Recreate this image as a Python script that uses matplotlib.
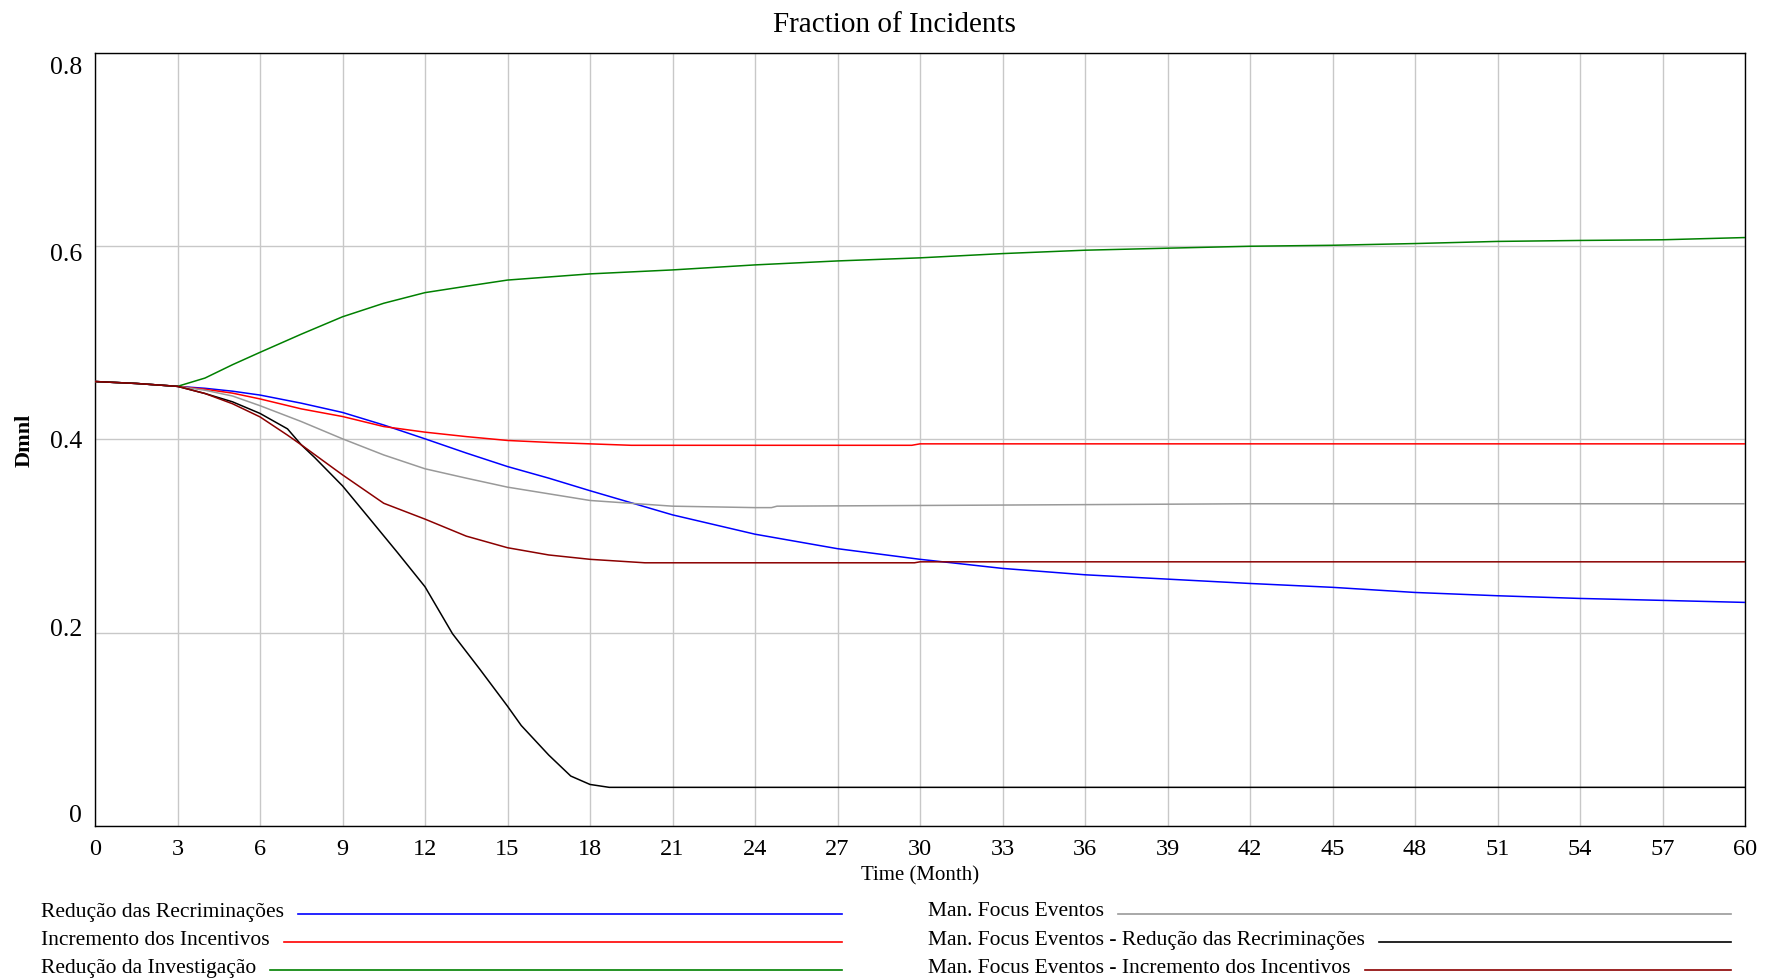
import matplotlib
matplotlib.use("Agg")
import matplotlib.pyplot as plt
from matplotlib.lines import Line2D
from matplotlib.transforms import blended_transform_factory, offset_copy

plt.rcParams['font.family'] = ['Liberation Serif', 'DejaVu Serif']

# ---- data ----
title = "Fraction of Incidents"
x_label = "Time (Month)"
y_label = "Dmnl"
x_ticks = list(range(0, 61, 3))
y_ticks = [0, 0.2, 0.4, 0.6, 0.8]
y_tick_labels = ["0", "0.2", "0.4", "0.6", "0.8"]

t_blue = [0, 1.5, 3, 4, 5, 6, 7.5, 9, 10.5, 12, 13.5, 15, 16.5, 18, 21, 24, 27, 30, 33, 36, 39, 42, 45, 48, 51, 54, 57, 60]
v_blue = [.46, .458, .455, .453, .45, .446, .4376, .428, .415, .4007, .386, .372, .36, .347, .322, .302, .287, .276, .2666, .26, .2555, .251, .247, .2417, .2383, .2355, .2335, .2314]

t_red = [0, 1.5, 3, 4, 5, 6, 7.5, 9, 10.5, 12, 13.5, 15, 16.5, 18, 19.5, 29.7, 30, 60]
v_red = [.46, .458, .455, .452, .448, .442, .4317, .4238, .4134, .4076, .403, .399, .397, .3955, .394, .394, .3955, .3955]

t_green = [0, 1.5, 3, 4, 5, 6, 7.5, 9, 10.5, 12, 13.5, 15, 18, 21, 24, 27, 30, 33, 36, 39, 42, 45, 48, 51, 54, 57, 60]
v_green = [.46, .458, .455, .4636, .4774, .4902, .509, .527, .541, .552, .5586, .565, .5714, .5755, .5807, .5848, .588, .5924, .5959, .598, .6, .601, .6028, .605, .606, .6067, .609]

t_gray = [0, 1.5, 3, 4, 5, 6, 7.5, 9, 10.5, 12, 13.5, 15, 16.5, 18, 21, 24, 24.6, 24.8, 32, 42, 60]
v_gray = [.46, .458, .455, .451, .445, .435, .4186, .4007, .384, .3697, .36, .3507, .3438, .3369, .331, .3295, .3295, .331, .332, .3335, .3335]

t_black = [0, 1.5, 3, 4, 5, 6, 7, 7.5, 8, 9, 10, 11, 12, 13, 14, 15, 15.5, 16.5, 17.3, 18, 18.7, 60]
v_black = [.46, .458, .455, .4476, .439, .427, .411, .3945, .381, .352, .3176, .283, .2476, .199, .162, .124, .104, .0734, .0517, .043, .040, .040]

t_dred = [0, 1.5, 3, 4, 5, 6, 7, 7.5, 9, 10.5, 12, 13.5, 15, 16.5, 18, 20, 29.8, 30, 60]
v_dred = [.46, .458, .455, .4476, .437, .4234, .4045, .3945, .3634, .334, .3176, .30, .288, .2805, .276, .2724, .2724, .2734, .2734]

series_names = ["Redução das Recriminações", "Incremento dos Incentivos", "Redução da Investigação",
                "Man. Focus Eventos", "Man. Focus Eventos - Redução das Recriminações",
                "Man. Focus Eventos - Incremento dos Incentivos"]
series_t = [t_blue, t_red, t_green, t_gray, t_black, t_dred]
series_v = [v_blue, v_red, v_green, v_gray, v_black, v_dred]
series_colors = ["#0000ff", "#ff0000", "#008000", "#999999", "#000000", "#8b0000"]

# ---- figure ----
W, H = 1777, 980
fig = plt.figure(figsize=(W / 100, H / 100), dpi=100)
ax = fig.add_axes([95 / W, 1 - 826 / H, (1745 - 95) / W, (826 - 53) / H])

for t, v, c in zip(series_t, series_v, series_colors):
    ax.plot(t, v, color=c, lw=1.1, zorder=3)

ax.set_xlim(0, 60)
ax.set_ylim(0, 0.8)
ax.set_xticks(x_ticks)
ax.set_xticklabels([str(x) for x in x_ticks], fontsize=17.5)
ax.set_yticks(y_ticks)
ax.set_yticklabels([])
ax.tick_params(axis='both', length=0)
ax.tick_params(axis='x', pad=9)
ax.grid(True, color="#c8c8c8", lw=1.0, zorder=0)
for s in ax.spines.values():
    s.set_color("black")
    s.set_linewidth(1.0)

# y tick labels (Vensim-style placement)
trans = blended_transform_factory(ax.transAxes, ax.transData)
offsets_px = [10, 3, -2, -9, -15]
for yv, lab, dy in zip(y_ticks, y_tick_labels, offsets_px):
    tr = offset_copy(trans, fig=fig, x=-13, y=dy, units='dots')
    ax.text(0, yv, lab, transform=tr, ha='right', va='center', fontsize=18.5)

ax.set_xlabel(x_label, fontsize=15, labelpad=5)
fig.text(25 / W, 1 - 440 / H, y_label, rotation=90, ha='center', va='center',
         fontsize=16, fontweight='bold')
fig.text(894 / W, 1 - 25 / H, title, ha='center', va='center', fontsize=21)

# ---- legend ----
fig.canvas.draw()
renderer = fig.canvas.get_renderer()
row_y = [912, 940, 968]
cols = [(41, 842), (928, 1731)]
for i, (name, c) in enumerate(zip(series_names, series_colors)):
    col = i // 3
    row = i % 3
    x0, xend = cols[col]
    yf = 1 - row_y[row] / H
    txt = fig.text(x0 / W, yf, name, ha='left', va='center', fontsize=15.5)
    bb = txt.get_window_extent(renderer=renderer)
    xs = (bb.x1 + 14) / W
    fig.add_artist(Line2D([xs, xend / W], [yf - 1.5 / H, yf - 1.5 / H], color=c, lw=1.2,
                          transform=fig.transFigure))

fig.savefig("out.png", dpi=100)
